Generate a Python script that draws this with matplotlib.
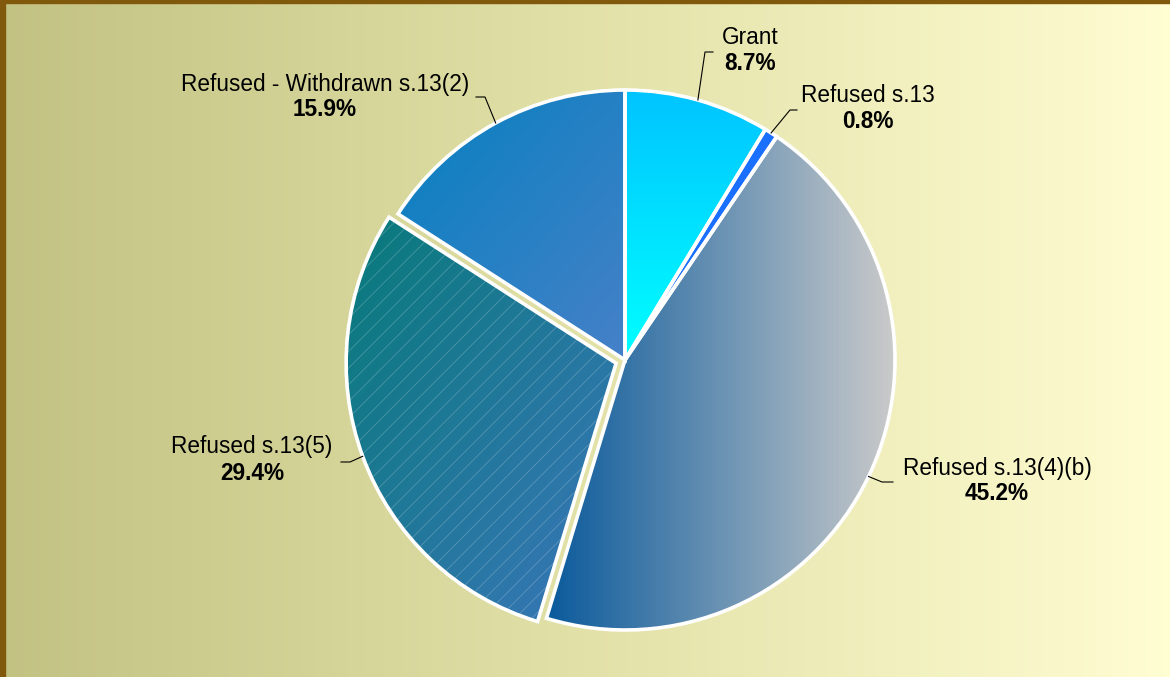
import matplotlib
matplotlib.use("Agg")
import matplotlib.pyplot as plt
import numpy as np
from matplotlib.colors import LinearSegmentedColormap
from matplotlib.patches import Rectangle, Wedge

plt.rcParams['font.family'] = ['Liberation Sans', 'DejaVu Sans']

# data
labels = ['Grant', 'Refused s.13', 'Refused s.13(4)(b)', 'Refused s.13(5)',
          'Refused - Withdrawn s.13(2)']
shares = [8.7, 0.8, 45.2, 29.4, 15.9]
explode = [0, 0, 0, 0.035, 0]  # fraction of radius

# gradient colours per slice: (start, end, direction)
fills = [('#00c4ff', '#00ffff', 'v'),
         ('#1a70ff', '#1a70ff', 'v'),
         ('#0a5a9c', '#cacaca', 'h'),
         ('#087a7a', '#3a76ba', 'd'),
         ('#0580c0', '#4680c8', 'd')]

W, H = 1170, 677
fig = plt.figure(figsize=(W / 100, H / 100), dpi=100)
ax = fig.add_axes([0, 0, 1, 1])

# background
bg = LinearSegmentedColormap.from_list('bg', ['#c2c283', '#e2e1a8', '#fffdd2'])
ax.imshow(np.linspace(0, 1, 256)[None, :], cmap=bg, aspect='auto',
          extent=[0, W, 0, H], zorder=0)
fig.patches.append(Rectangle((0, 0), 5 / W, 1, transform=fig.transFigure,
                             color='#80590c', zorder=10))
fig.patches.append(Rectangle((0, 1 - 3 / H), 1, 3 / H, transform=fig.transFigure,
                             color='#80590c', zorder=10))

cx, cy, r = 625, H - 360, 270
wedges, _ = ax.pie(shares, startangle=90, counterclock=False, center=(cx, cy),
                   radius=r, explode=[e * r for e in explode], frame=True,
                   wedgeprops=dict(edgecolor='white', linewidth=2.6, facecolor='none'))
ax.set_xlim(0, W)
ax.set_ylim(0, H)
ax.set_aspect('equal')
ax.axis('off')

for w, (c0, c1, d) in zip(wedges, fills):
    cm = LinearSegmentedColormap.from_list('g', [c0, c1])
    xx, yy = np.meshgrid(np.linspace(0, 1, 200), np.linspace(0, 1, 200))
    if d == 'h':
        g = xx
    elif d == 'v':
        g = yy
    else:
        g = (xx + yy) / 2
    bb = w.get_path().get_extents()
    im = ax.imshow(g, cmap=cm, origin='upper', aspect='auto',
                   extent=[bb.x0, bb.x1, bb.y0, bb.y1], zorder=1)
    im.set_clip_path(w)
    w.set_zorder(3)

# light diagonal hatch on s.13(5)
plt.rcParams['hatch.linewidth'] = 0.6
h = wedges[3]
hatch = Wedge(h.center, h.r, h.theta1, h.theta2, facecolor='none',
              edgecolor=(1, 1, 1, 0.22), linewidth=0, hatch='//', zorder=2)
ax.add_patch(hatch)

# labels: text position, leader elbow and end (pixels from top-left)
label_xy = [(750, 38), (868, 96), (997, 468), (252, 447), (325, 84)]
elbows = [((705, 52), (713, 52)), ((790, 110), (797, 110)),
          ((882, 482), (893, 482)), ((350, 462), (341, 462)),
          ((485, 97), (476, 97))]

for w, lab, val, (tx, ty), (e1, e2) in zip(wedges, labels, shares, label_xy, elbows):
    mid = np.deg2rad((w.theta1 + w.theta2) / 2)
    px = w.center[0] + w.r * np.cos(mid)
    py = w.center[1] + w.r * np.sin(mid)
    ax.plot([px, e1[0], e2[0]], [py, H - e1[1], H - e2[1]], color='black',
            lw=0.8, zorder=4)
    ax.text(tx, H - ty, lab, ha='center', va='center', fontsize=16.3, zorder=5)
    ax.text(tx, H - ty - 26, f'{val:.1f}%', ha='center', va='center',
            fontsize=16.3, fontweight='bold', zorder=5)

fig.savefig('out.png', dpi=100)
